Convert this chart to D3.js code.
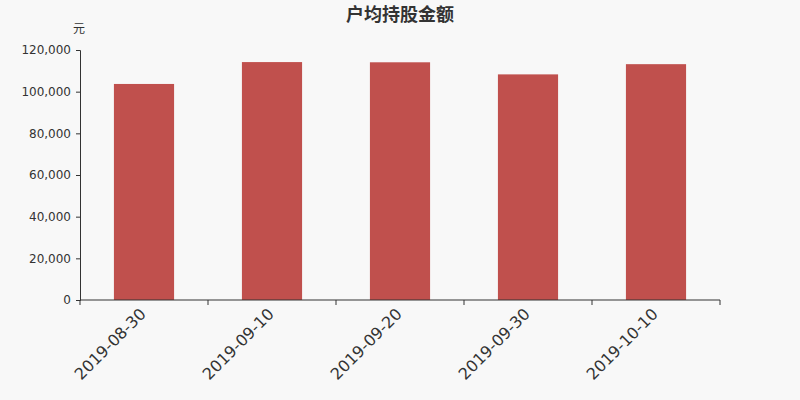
<!DOCTYPE html>
<html>
<head>
<meta charset="utf-8">
<script src="https://cdn.jsdelivr.net/npm/d3@7"></script>
<style>
    body { margin: 0; background: #f8f8f8; }
    svg { display: block; }
    text { font-family: "DejaVu Sans", "Noto Sans CJK SC", sans-serif; }
</style>
</head>
<body>
<svg id="chart" width="800" height="400"></svg>
<script>
var dates = ["2019-08-30", "2019-09-10", "2019-09-20", "2019-09-30", "2019-10-10"];
var amounts = [103700, 114200, 114100, 108300, 113200];
var yTicks = [0, 20000, 40000, 60000, 80000, 100000, 120000];

var font = "'DejaVu Sans', 'Noto Sans CJK SC', sans-serif";
var margin = { top: 50, right: 80, bottom: 100, left: 80 };
var width = 800 - margin.left - margin.right;
var height = 400 - margin.top - margin.bottom;

var svg = d3.select("#chart");
svg.append("rect").attr("width", 800).attr("height", 400).attr("fill", "#f8f8f8");

var g = svg.append("g").attr("transform", "translate(" + margin.left + "," + margin.top + ")");

var x = d3.scaleBand().domain(dates).range([0, width]).paddingInner(0.53).paddingOuter(0.265);
var y = d3.scaleLinear().domain([0, 120000]).range([height, 0]);

// bars
g.selectAll(".bar")
    .data(amounts)
    .enter()
    .append("rect")
    .attr("class", "bar")
    .attr("x", (d, i) => x(dates[i]))
    .attr("y", d => y(d))
    .attr("width", x.bandwidth())
    .attr("height", d => height - y(d))
    .attr("fill", "#c0504d");

// y axis
var yAxis = g.append("g")
    .call(d3.axisLeft(y).tickValues(yTicks).tickSize(4).tickPadding(5).tickFormat(d3.format(",")))
    .attr("font-family", font);
yAxis.select(".domain").attr("stroke", "#333");
yAxis.selectAll(".tick line").attr("stroke", "#333");
yAxis.selectAll(".tick text").attr("fill", "#333").style("font-size", "12px").style("font-family", font);

// x axis with ticks on band boundaries
var xAxis = g.append("g").attr("transform", "translate(0," + height + ")");
xAxis.append("line")
    .attr("x1", 0).attr("x2", width)
    .attr("stroke", "#333");
var bounds = dates.map(d => x(d) - x.step() * x.paddingInner() / 2);
bounds.push(width);
xAxis.selectAll(".xtick")
    .data(bounds)
    .enter()
    .append("line")
    .attr("x1", d => d).attr("x2", d => d)
    .attr("y1", 0).attr("y2", 5)
    .attr("stroke", "#333");
xAxis.selectAll(".xlabel")
    .data(dates)
    .enter()
    .append("text")
    .attr("text-anchor", "end")
    .attr("fill", "#333")
    .style("font-size", "16px")
    .style("font-family", font)
    .attr("transform", d => "translate(" + (x(d) + x.bandwidth() / 2 + 3) + ",15) rotate(-45)")
    .text(d => d);

// title and unit
svg.append("text")
    .attr("x", 400).attr("y", 21)
    .attr("text-anchor", "middle")
    .attr("fill", "#333")
    .style("font-size", "18px")
    .style("font-weight", "bold")
    .style("font-family", font)
    .text("户均持股金额");

svg.append("text")
    .attr("x", 79).attr("y", 33)
    .attr("text-anchor", "middle")
    .attr("fill", "#333")
    .style("font-size", "12px")
    .style("font-family", font)
    .text("元");
</script>
</body>
</html>
